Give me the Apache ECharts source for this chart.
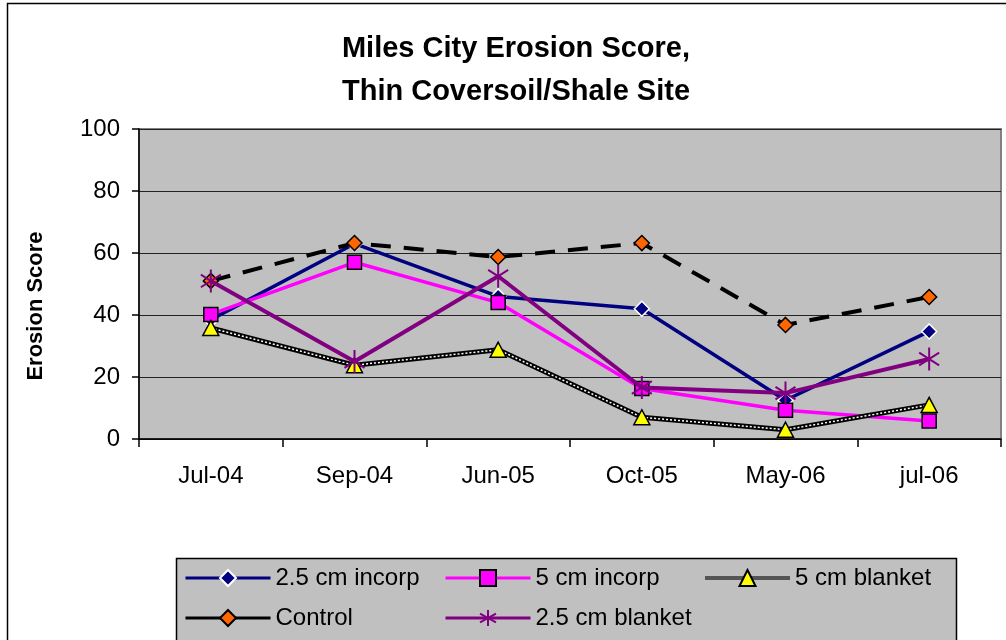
<!DOCTYPE html>
<html>
<head>
<meta charset="utf-8">
<script src="https://cdn.jsdelivr.net/npm/echarts@6/dist/echarts.min.js"></script>
<style>html,body{margin:0;padding:0;background:#fff;}#c{width:1006px;height:640px;}</style>
</head>
<body>
<div id="c"></div>
<script>
const categories = ['Jul-04', 'Sep-04', 'Jun-05', 'Oct-05', 'May-06', 'jul-06'];
const incorp25 = [38.5, 63, 46, 42, 12.5, 34.7];
const incorp5 = [40.2, 57, 44, 16.3, 9.3, 5.8];
const blanket5 = [35.8, 23.8, 28.8, 7, 3, 11];
const control = [51, 63.2, 58.7, 63.2, 36.8, 45.8];
const blanket25 = [51, 25, 52.5, 16.6, 14.8, 25.8];
const yTicks = [0, 20, 40, 60, 80, 100];

const FONT = "'Liberation Sans', Arial, sans-serif";
const STAR = 'path://M10,0L10,20M1.3,4.5L18.7,15.5M1.3,15.5L18.7,4.5';

const chart = echarts.init(document.getElementById('c'));
const legendBase = {
  orient: 'horizontal', itemWidth: 85, itemHeight: 20, itemGap: 0, padding: 0,
  textStyle: { fontFamily: FONT, fontSize: 24, color: '#000' },
  selectedMode: false
};
chart.setOption({
  animation: false,
  backgroundColor: '#fff',
  title: {
    text: 'Miles City Erosion Score,\nThin Coversoil/Shale Site',
    left: 511, top: 22, textAlign: 'center',
    textStyle: { fontFamily: FONT, fontSize: 29, fontWeight: 'bold', color: '#000', lineHeight: 43 }
  },
  graphic: [
    { type: 'rect', z: -10, shape: { x: 7.5, y: 3.5, width: 1020, height: 660 }, style: { fill: 'none', stroke: '#000', lineWidth: 1.5 } },
    { type: 'rect', z: -5, shape: { x: 176.5, y: 558.5, width: 780, height: 120 }, style: { fill: '#C0C0C0', stroke: '#000', lineWidth: 1.5 } }
  ],
  grid: {
    left: 139, right: 5, top: 129, bottom: 201,
    show: true, backgroundColor: '#C0C0C0', borderColor: '#808080', borderWidth: 2
  },
  xAxis: {
    type: 'category', data: categories, boundaryGap: true,
    axisLine: { lineStyle: { color: '#000', width: 1.5 } },
    axisTick: { show: true, length: 8, lineStyle: { color: '#000', width: 1.5 } },
    axisLabel: { fontFamily: FONT, fontSize: 24, color: '#000', margin: 25 }
  },
  yAxis: {
    type: 'value', min: 0, max: 100, interval: 20,
    name: 'Erosion Score', nameLocation: 'middle', nameGap: 92, nameRotate: 90,
    nameTextStyle: { fontFamily: FONT, fontSize: 22, fontWeight: 'bold', color: '#000', padding: [0, 44, 0, 0] },
    axisLine: { show: true, lineStyle: { color: '#000', width: 1.5 } },
    axisTick: { show: true, length: 7, lineStyle: { color: '#000', width: 1.5 } },
    axisLabel: { fontFamily: FONT, fontSize: 24, color: '#000', margin: 19,
      formatter: v => (yTicks.indexOf(v) >= 0 ? String(v) : '') },
    splitLine: { show: true, lineStyle: { color: '#222', width: 1.2 } }
  },
  legend: [
    Object.assign({}, legendBase, { left: 184, top: 566, data: [{ name: '2.5 cm incorp', lineStyle: { width: 3 } }] }),
    Object.assign({}, legendBase, { left: 444, top: 566, data: [{ name: '5 cm incorp', lineStyle: { width: 3 } }] }),
    Object.assign({}, legendBase, { left: 703, top: 566, data: [{ name: '5 cm blanket', lineStyle: { color: '#555', width: 4 } }] }),
    Object.assign({}, legendBase, { left: 184, top: 606, data: [{ name: 'Control', lineStyle: { type: 'solid', width: 3 } }] }),
    Object.assign({}, legendBase, { left: 444, top: 606, data: [{ name: '2.5 cm blanket', lineStyle: { width: 3 } }] })
  ],
  series: [
    {
      name: '2.5 cm incorp', type: 'line', data: incorp25, z: 2,
      symbol: 'diamond', symbolSize: 15,
      lineStyle: { color: '#000080', width: 3.5 },
      itemStyle: { color: '#000080', borderColor: '#fff', borderWidth: 1.5 }
    },
    {
      name: '5 cm incorp', type: 'line', data: incorp5, z: 3,
      symbol: 'rect', symbolSize: 14,
      lineStyle: { color: '#FF00FF', width: 3.5 },
      itemStyle: { color: '#FF00FF', borderColor: '#000', borderWidth: 1.5 }
    },
    {
      name: '5 cm blanket', type: 'line', data: blanket5, z: 4,
      symbol: 'triangle', showSymbol: false,
      lineStyle: { color: '#000', width: 5 },
      itemStyle: { color: '#FFFF00', borderColor: '#000', borderWidth: 1.5 }
    },
    {
      name: 'blanketDots', type: 'line', data: blanket5, z: 4, silent: true,
      symbol: 'none',
      lineStyle: { color: '#fff', width: 1.5, type: [2, 2] }
    },
    {
      name: 'blanketMarks', type: 'line', data: blanket5, z: 4,
      symbol: 'triangle', symbolSize: [16, 15],
      lineStyle: { width: 0, opacity: 0 },
      itemStyle: { color: '#FFFF00', borderColor: '#000', borderWidth: 1.5 }
    },
    {
      name: 'Control', type: 'line', data: control, z: 5,
      symbol: 'diamond', symbolSize: 15,
      lineStyle: { color: '#000', width: 4, type: [20, 13] },
      itemStyle: { color: '#FF6600', borderColor: '#000', borderWidth: 1.5 }
    },
    {
      name: '2.5 cm blanket', type: 'line', data: blanket25, z: 6,
      symbol: STAR, symbolSize: 23, symbolKeepAspect: true,
      lineStyle: { color: '#800080', width: 4 },
      itemStyle: { color: 'none', borderColor: '#800080', borderWidth: 2 }
    }
  ]
});
</script>
</body>
</html>
